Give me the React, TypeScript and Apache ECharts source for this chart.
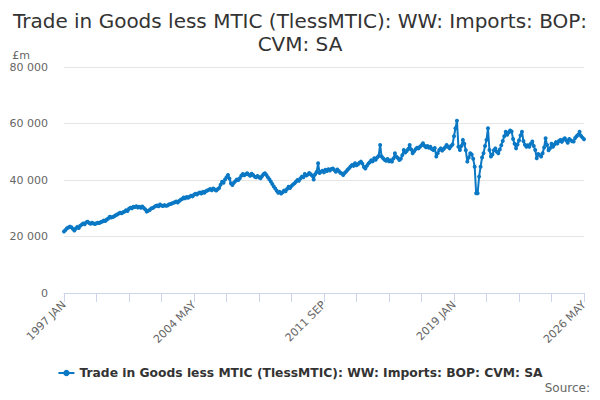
import React, { useRef, useEffect } from 'react'
import * as echarts from 'echarts'

const monthNames = ['JAN', 'FEB', 'MAR', 'APR', 'MAY', 'JUN', 'JUL', 'AUG', 'SEP', 'OCT', 'NOV', 'DEC']
const startYear = 1997
const endYear = 2026
const endMonth = 5

// £m, one row per year (Jan..Dec)
const v1997 = [21800, 22300, 22900, 23200, 23500, 23300, 22700, 22100, 22800, 23400, 23000, 23800]
const v1998 = [24200, 24600, 24300, 25000, 25200, 24800, 24500, 24900, 24600, 24400, 24700, 24900]
const v1999 = [24800, 25100, 25300, 25700, 25500, 26000, 26400, 27000, 26700, 26900, 27200, 27500]
const v2000 = [27800, 28100, 28400, 28200, 28600, 28800, 29300, 29000, 29800, 30200, 30000, 30500]
const v2001 = [30400, 30700, 30300, 30500, 30200, 30600, 30100, 29600, 28800, 29100, 29400, 29900]
const v2002 = [30100, 30400, 30800, 31000, 30700, 31300, 31000, 30800, 31100, 30900, 31000, 31300]
const v2003 = [31500, 31700, 31900, 32100, 32400, 32000, 32600, 33000, 33300, 33800, 33500, 34000]
const v2004 = [33700, 34100, 34400, 34200, 34800, 35100, 34900, 35300, 35600, 35200, 35800, 35500]
const v2005 = [36000, 36300, 36500, 36800, 36400, 37000, 36600, 36300, 36700, 37200, 38300, 39400]
const v2006 = [39000, 40200, 41000, 41800, 40500, 38800, 38200, 39000, 39600, 40200, 40000, 40600]
const v2007 = [41500, 42100, 41700, 42000, 42400, 41900, 41500, 42200, 41800, 41200, 41000, 41400]
const v2008 = [41000, 40600, 41300, 42000, 42400, 41800, 41000, 40300, 39500, 38600, 37700, 37000]
const v2009 = [36200, 35500, 35800, 35200, 35700, 36300, 36000, 36800, 37600, 37200, 37900, 38400]
const v2010 = [38800, 39400, 40000, 39700, 40500, 41200, 41000, 42100, 41600, 41900, 42500, 42000]
const v2011 = [41500, 40200, 42000, 42800, 45900, 42500, 42900, 43300, 42700, 43600, 43200, 43800]
const v2012 = [43400, 43900, 44100, 43500, 42900, 43700, 43200, 42600, 42300, 41800, 42500, 43000]
const v2013 = [43600, 44200, 44800, 45300, 45000, 45900, 45200, 45600, 46100, 46500, 45800, 44600]
const v2014 = [44100, 45000, 45800, 46300, 47000, 46600, 47700, 47200, 48000, 48500, 52400, 48300]
const v2015 = [47700, 47200, 46800, 47400, 46600, 47000, 46500, 47600, 49500, 48200, 47800, 47100]
const v2016 = [47500, 48800, 50600, 49700, 50300, 51000, 52400, 50800, 49500, 50200, 50900, 51400]
const v2017 = [51200, 51800, 52300, 53000, 52100, 51600, 52000, 51400, 51800, 51000, 50600, 51300]
const v2018 = [48300, 49500, 50600, 51200, 50400, 51000, 51600, 52400, 51800, 51200, 52000, 52600]
const v2019 = [55500, 58300, 61000, 51800, 50600, 52000, 54200, 52800, 50500, 46500, 48000, 49500]
const v2020 = [49000, 47500, 44700, 35300, 35300, 41200, 44700, 48000, 49500, 52000, 54200, 58300]
const v2021 = [50600, 48300, 49000, 50500, 51200, 50000, 49500, 50800, 52300, 53800, 55500, 57100]
const v2022 = [56000, 56800, 57500, 57200, 54500, 52800, 51200, 52600, 54000, 55800, 57100, 53800]
const v2023 = [52500, 51800, 52300, 51800, 52800, 53600, 52000, 50600, 47700, 49200, 48800, 48300]
const v2024 = [49500, 51500, 54800, 52400, 50500, 51200, 52800, 51800, 52600, 53400, 52900, 53800]
const v2025 = [54200, 53500, 54300, 54800, 54000, 53200, 54500, 54100, 53700, 53600, 54900, 55500]
const v2026 = [56000, 57100, 55600, 55000, 54400]

const imports = [
  ...v1997, ...v1998, ...v1999, ...v2000, ...v2001, ...v2002, ...v2003, ...v2004,
  ...v2005, ...v2006, ...v2007, ...v2008, ...v2009, ...v2010, ...v2011, ...v2012,
  ...v2013, ...v2014, ...v2015, ...v2016, ...v2017, ...v2018, ...v2019, ...v2020,
  ...v2021, ...v2022, ...v2023, ...v2024, ...v2025, ...v2026
]

const categories: string[] = []
for (let y = startYear; y <= endYear; y++) {
  const last = y === endYear ? endMonth : 12
  for (let m = 0; m < last; m++) categories.push(`${y} ${monthNames[m]}`)
}

const seriesName = 'Trade in Goods less MTIC (TlessMTIC): WW: Imports: BOP: CVM: SA'
const titleText = 'Trade in Goods less MTIC (TlessMTIC): WW: Imports: BOP:\nCVM: SA'
const font = '"DejaVu Sans", sans-serif'
const lineColor = '#0a78c4'

const formatThousands = (v: number) => String(v).replace(/\B(?=(\d{3})+(?!\d))/g, ' ')

const App: React.FC = () => {
  const chartRef = useRef<HTMLDivElement>(null)

  useEffect(() => {
    if (!chartRef.current) return
    const chart = echarts.init(chartRef.current, undefined, { renderer: 'svg' })

    chart.setOption({
      animation: false,
      backgroundColor: '#ffffff',
      textStyle: { fontFamily: font },
      title: {
        text: titleText,
        left: 'center',
        top: 4,
        textStyle: {
          color: '#333333',
          fontSize: 20,
          fontWeight: 'normal',
          fontFamily: font,
          lineHeight: 23
        }
      },
      legend: {
        data: [seriesName],
        bottom: 16,
        left: 'center',
        itemWidth: 16,
        itemHeight: 8,
        textStyle: {
          color: '#333333',
          fontSize: 12.3,
          fontWeight: 'bold',
          fontFamily: font
        }
      },
      graphic: [
        {
          type: 'text',
          right: 10,
          top: 382,
          style: {
            text: 'Source:',
            fill: '#666666',
            fontSize: 12,
            fontFamily: font
          }
        }
      ],
      grid: {
        left: 64,
        right: 16,
        top: 67,
        bottom: 107
      },
      xAxis: {
        type: 'category',
        data: categories,
        boundaryGap: false,
        axisLine: { lineStyle: { color: '#ccd6eb' } },
        axisTick: {
          interval: 21,
          length: 9,
          lineStyle: { color: '#ccd6eb' }
        },
        axisLabel: {
          interval: 87,
          rotate: 45,
          color: '#666666',
          fontSize: 11,
          fontFamily: font,
          margin: 10
        },
        splitLine: { show: false }
      },
      yAxis: {
        type: 'value',
        name: '£m',
        nameLocation: 'end',
        nameGap: 6,
        nameTextStyle: {
          color: '#666666',
          fontSize: 11,
          fontFamily: font,
          align: 'right',
          padding: [0, 34, 0, 0]
        },
        min: 0,
        max: 80000,
        interval: 20000,
        axisLine: { show: false },
        axisTick: { show: false },
        axisLabel: {
          color: '#666666',
          fontSize: 11,
          fontFamily: font,
          margin: 16,
          formatter: (v: number) => formatThousands(v)
        },
        splitLine: { lineStyle: { color: '#e6e6e6' } }
      },
      series: [
        {
          name: seriesName,
          type: 'line',
          data: imports,
          symbol: 'circle',
          symbolSize: 4,
          showAllSymbol: true,
          itemStyle: { color: lineColor },
          lineStyle: { color: lineColor, width: 2 }
        }
      ]
    })

    return () => {
      chart.dispose()
    }
  }, [])

  return (
    <div
      ref={chartRef}
      style={{ position: 'absolute', left: 0, top: 0, width: 600, height: 400 }}
    />
  )
}

export default App
